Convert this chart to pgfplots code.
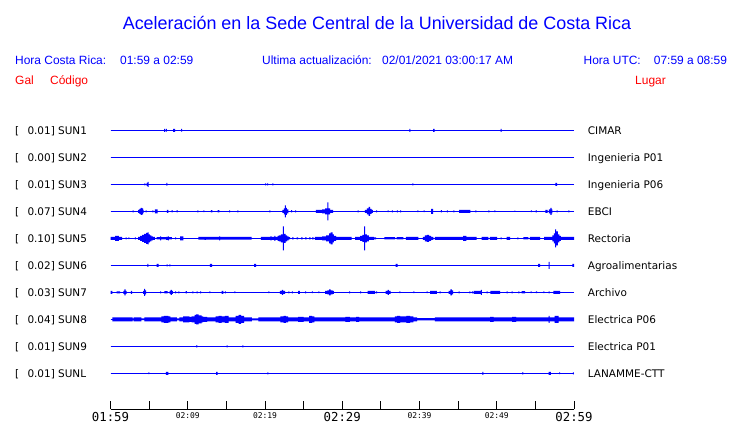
\documentclass[border=0pt]{standalone}
\usepackage{pgfplots}
\pgfplotsset{compat=1.18}
\usepackage{pgfplotstable}
\usepgfplotslibrary{fillbetween}
\usepackage{fontspec}
\setmainfont{Liberation Sans}
\newfontfamily\dejavu{DejaVu Sans}
\newfontfamily\dmono{DejaVu Sans Mono}
\definecolor{tblue}{RGB}{0,0,255}
\definecolor{tred}{RGB}{255,0,0}
\newcommand{\bigt}[1]{{\dmono\fontsize{12.4}{12.4}\selectfont #1}}
\newcommand{\smallt}[1]{{\dmono\fontsize{8}{8}\selectfont #1}}
% station envelope tables: x = minutes after 01:59, a = half amplitude (px)
\pgfplotstableread[row sep=\\]{x a\\ 0 0\\ 6.95 1.5\\ 7.08 0\\ 7.18 1.3\\ 7.31 0\\ 8.1 1.5\\ 8.35 0\\ 9.15 1.3\\ 9.28 0\\ 38.7 1.5\\ 38.83 0\\ 41.75 1.5\\ 41.97 0\\ 50.5 1.5\\ 50.63 0\\ 60 0\\}\sA
\pgfplotstableread[row sep=\\]{x a\\ 0 0\\ 60 0\\}\sB
\pgfplotstableread[row sep=\\]{x a\\ 0 0\\ 4.38 1\\ 4.5 0\\ 4.69 1.5\\ 4.82 2.5\\ 4.95 0\\ 7.22 1.3\\ 7.35 0\\ 20.0 1\\ 20.13 0\\ 20.26 1\\ 20.39 0\\ 20.95 1\\ 21.08 0\\ 39.09 1\\ 39.22 0\\ 57.6 1.5\\ 57.82 0\\ 60 0\\}\sC
\pgfplotstableread[row sep=\\]{x a\\ 0 0\\ 2.87 1\\ 3.0 0\\ 3.56 1.5\\ 3.75 2.5\\ 3.91 3.5\\ 4.08 3\\ 4.21 1.5\\ 4.3 0\\ 4.56 1\\ 4.69 0\\ 5.41 1\\ 5.54 0\\ 5.76 2\\ 6.11 0\\ 7.31 1.5\\ 7.5 0\\ 7.92 1.2\\ 8.05 0\\ 8.57 1.2\\ 8.7 0\\ 11.24 1\\ 11.37 0\\ 12.02 0.8\\ 12.15 0\\ 13.0 1.2\\ 13.2 0\\ 13.88 1.2\\ 14.08 0\\ 15.35 1\\ 15.48 0\\ 16.41 1\\ 16.54 0\\ 20.56 1\\ 20.69 0\\ 22.25 1.5\\ 22.44 3\\ 22.57 6\\ 22.69 3.5\\ 22.82 2\\ 23.03 0\\ 23.38 1.2\\ 23.51 0\\ 23.9 1\\ 24.03 0\\ 26.6 1.5\\ 27.38 2\\ 27.77 3\\ 28.08 9\\ 28.2 3\\ 28.42 1.5\\ 28.81 0\\ 32.0 1\\ 32.13 0\\ 32.94 1.5\\ 33.2 3\\ 33.42 4.5\\ 33.6 2.5\\ 33.8 1.5\\ 33.98 0\\ 34.37 1\\ 34.5 0\\ 35.86 0.8\\ 35.99 0\\ 36.43 1\\ 36.56 0\\ 37.07 1\\ 37.2 0\\ 37.5 1\\ 37.63 0\\ 39.74 0.8\\ 39.87 0\\ 40.52 0.8\\ 40.65 0\\ 41.5 2.5\\ 41.75 0\\ 42.77 1.2\\ 42.9 0\\ 43.55 1\\ 43.68 0\\ 44.4 1\\ 44.53 0\\ 45.14 1.5\\ 46.57 0\\ 47.22 1\\ 47.35 0\\ 48.9 1\\ 49.03 0\\ 49.68 0.8\\ 49.81 0\\ 52.27 0.6\\ 52.4 0\\ 54.43 0.8\\ 54.56 0\\ 55.02 1\\ 55.2 0\\ 56.28 1.5\\ 56.57 0\\ 56.76 2\\ 56.93 3.5\\ 57.09 2\\ 57.2 0\\ 57.76 1\\ 57.89 0\\ 59.26 1\\ 59.39 0\\ 60 0\\}\sD
\pgfplotstableread[row sep=\\]{x a\\ 0 1.5\\ 0.6 2.5\\ 1.1 1.5\\ 1.5 0\\ 1.97 1\\ 2.1 0\\ 2.3 0.8\\ 2.43 0\\ 3.17 1\\ 3.3 0\\ 3.56 1.5\\ 3.82 2.5\\ 4.08 3.5\\ 4.34 4.5\\ 4.6 5.5\\ 4.8 6\\ 4.92 4\\ 5.1 3\\ 5.3 2\\ 5.5 1.5\\ 5.76 0\\ 5.98 1.2\\ 6.41 2\\ 6.54 1.2\\ 7.19 1.5\\ 7.44 2\\ 7.57 1.2\\ 7.96 0\\ 8.35 1\\ 8.48 0\\ 9.0 2\\ 9.43 0\\ 11.37 1.3\\ 12.2 1.5\\ 12.35 1.3\\ 14.05 2\\ 14.2 1.3\\ 18.28 0\\ 19.48 1.5\\ 20.7 2\\ 20.85 1.5\\ 21.2 2.5\\ 21.35 1.5\\ 21.62 2.5\\ 21.81 3\\ 22.07 4\\ 22.31 12\\ 22.44 4.5\\ 22.66 3\\ 22.86 2\\ 23.05 1.2\\ 23.25 0\\ 23.5 1\\ 23.7 0\\ 24.1 1\\ 24.3 0\\ 24.68 1\\ 24.88 0\\ 25.2 1\\ 25.4 0\\ 25.7 1\\ 25.9 0\\ 26.1 1\\ 26.3 0\\ 26.47 1.5\\ 27.4 2\\ 27.9 3\\ 28.3 5\\ 28.5 6\\ 28.74 4\\ 28.93 2.5\\ 29.2 1.5\\ 31.22 0\\ 31.67 1.5\\ 32.3 2.5\\ 32.62 3.5\\ 32.84 12\\ 32.97 4\\ 33.2 3\\ 33.46 1.5\\ 34.1 1\\ 34.37 0\\ 35.44 1.2\\ 36.83 0\\ 37.05 1.2\\ 37.9 0\\ 38.25 1.5\\ 39.84 0\\ 40.45 1.5\\ 40.71 3\\ 40.97 3.5\\ 41.23 2.5\\ 41.5 1.5\\ 41.78 0\\ 42.0 1.5\\ 45.66 2.5\\ 46.08 1.5\\ 47.38 0\\ 48.03 1.5\\ 48.9 0\\ 49.1 1.5\\ 50.06 0\\ 50.5 1\\ 50.63 0\\ 51.29 1.5\\ 51.72 0\\ 52.66 1\\ 52.79 0\\ 53.44 1.2\\ 54.08 0\\ 54.3 1.5\\ 55.6 0\\ 56.14 1.5\\ 57.19 3\\ 57.38 5\\ 57.55 9\\ 57.7 7\\ 57.9 4\\ 58.1 2.5\\ 58.3 1.5\\ 60 1.5\\}\sE
\pgfplotstableread[row sep=\\]{x a\\ 0 0\\ 4.76 1.5\\ 4.89 0\\ 5.98 1.5\\ 6.24 0\\ 7.27 1\\ 7.4 0\\ 7.61 1\\ 7.74 0\\ 12.88 1.5\\ 13.14 0\\ 18.58 1.5\\ 18.84 0\\ 36.92 1.5\\ 37.18 0\\ 55.34 1.5\\ 55.6 0\\ 56.72 3.5\\ 56.85 0\\ 59.8 1.5\\ 60 1.5\\}\sF
\pgfplotstableread[row sep=\\]{x a\\ 0 1.5\\ 0.23 0\\ 0.8 1\\ 1.23 0\\ 1.68 1.5\\ 1.81 3\\ 1.97 1.5\\ 2.1 0\\ 2.65 1.5\\ 2.8 0\\ 4.21 1.5\\ 4.34 3.5\\ 4.47 2\\ 4.6 0\\ 6.41 1\\ 6.54 0\\ 6.97 1.2\\ 7.4 0\\ 7.64 1.5\\ 7.77 2.5\\ 7.94 1.5\\ 8.09 0\\ 8.35 1\\ 8.48 0\\ 8.78 1\\ 8.91 0\\ 9.74 1.2\\ 9.9 0\\ 10.6 1\\ 10.73 0\\ 11.16 1\\ 11.29 0\\ 11.59 1\\ 11.72 0\\ 12.8 0.8\\ 12.93 0\\ 14.4 1.5\\ 14.6 0\\ 14.82 1\\ 14.95 0\\ 16.03 0.8\\ 16.16 0\\ 20.43 0.8\\ 20.56 0\\ 21.94 1.5\\ 22.18 2.5\\ 22.33 1.5\\ 22.59 0\\ 23.03 1\\ 23.16 0\\ 23.47 1\\ 23.6 0\\ 24.3 1.5\\ 24.5 0\\ 25.18 1\\ 25.31 0\\ 26.06 0.8\\ 26.19 0\\ 26.9 0.8\\ 27.03 0\\ 27.77 1.5\\ 28.09 2\\ 28.3 3\\ 28.5 2\\ 28.74 1.5\\ 28.93 0\\ 30.9 1\\ 31.03 0\\ 32.3 1\\ 32.43 0\\ 33.3 1.5\\ 34.24 0\\ 34.37 1\\ 34.5 0\\ 35.6 1.5\\ 35.86 2.5\\ 36.05 1.5\\ 36.25 0\\ 37.4 0.8\\ 37.53 0\\ 39.2 0.8\\ 39.33 0\\ 40.93 0.8\\ 41.06 0\\ 41.39 1.5\\ 42.25 0\\ 42.6 1\\ 42.73 0\\ 43.78 1.5\\ 44.0 3\\ 44.2 2\\ 44.36 0\\ 45.05 1\\ 45.18 0\\ 46.44 1\\ 46.57 0\\ 46.79 1\\ 46.92 0\\ 46.99 1.5\\ 47.95 2.5\\ 48.08 0\\ 48.7 1\\ 48.83 0\\ 49.16 1.5\\ 50.45 0\\ 51.29 1\\ 51.42 0\\ 51.94 1\\ 52.07 0\\ 52.8 1\\ 52.93 0\\ 53.23 1.2\\ 53.66 0\\ 54.4 0.8\\ 54.53 0\\ 55.08 0.8\\ 55.21 0\\ 56.03 0.8\\ 56.16 0\\ 56.7 1\\ 56.83 0\\ 57.32 1.5\\ 58.19 0\\ 60 0\\}\sG
\pgfplotstableread[row sep=\\]{x a\\ 0 0\\ 0.23 2\\ 2.85 1\\ 3.0 2\\ 4.0 0.8\\ 4.4 2\\ 6.6 3\\ 6.9 3.5\\ 7.5 3\\ 7.75 2\\ 8.6 1\\ 8.9 2\\ 9.4 3\\ 10.2 2.5\\ 10.5 3\\ 10.9 4.5\\ 11.1 5\\ 11.4 4\\ 11.8 3\\ 12.0 2.5\\ 12.5 2\\ 13.6 3\\ 14.0 3.5\\ 14.4 3\\ 14.8 3.5\\ 15.3 2\\ 16.2 3.5\\ 16.6 4.5\\ 16.9 3.5\\ 17.3 2\\ 18.3 1\\ 19.15 2\\ 22.0 3\\ 22.4 3.5\\ 22.7 3\\ 23.0 2\\ 24.3 2.5\\ 25.0 2\\ 25.7 3.5\\ 26.1 3\\ 26.4 2\\ 30.4 2.5\\ 31.0 2\\ 31.8 2.5\\ 32.2 2\\ 36.8 3\\ 37.1 3.5\\ 37.5 3\\ 38.3 3.5\\ 38.8 3\\ 39.2 2\\ 39.7 1.2\\ 42.0 2\\ 49.15 2.5\\ 49.6 2\\ 52.0 2.5\\ 52.5 2\\ 56.7 3.5\\ 56.85 2\\ 57.5 3.5\\ 58.0 2\\ 60 2\\}\sH
\pgfplotstableread[row sep=\\]{x a\\ 0 0\\ 11.1 1\\ 11.23 0\\ 15.04 1\\ 15.17 0\\ 17.06 1\\ 17.19 0\\ 60 0\\}\sI
\pgfplotstableread[row sep=\\]{x a\\ 0 0\\ 4.9 0.8\\ 5.03 0\\ 7.18 1.5\\ 7.48 0\\ 13.66 1.5\\ 13.88 0\\ 20.3 1\\ 20.43 0\\ 48.13 1.5\\ 48.26 0\\ 53.3 1\\ 53.43 0\\ 56.7 1.5\\ 57.0 0\\ 58.06 0.8\\ 58.19 0\\ 59.84 1\\ 59.97 0\\ 60 0\\}\sL
\newcommand{\trace}[3]{%
  \addplot[tblue, line width=1.1bp] coordinates {(0,#2) (60,#2)};
  \addplot[name path=u#3, const plot, draw=none] table[x=x, y expr=#2+\thisrow{a}] {#1};
  \addplot[name path=l#3, const plot, draw=none] table[x=x, y expr=#2-\thisrow{a}] {#1};
  \addplot[fill=tblue, draw=none] fill between[of=u#3 and l#3];
}
\begin{document}
\begin{tikzpicture}
\begin{axis}[
  at={(110.5bp,13.7bp)}, anchor=south west,
  scale only axis, width=463.5bp, height=300bp,
  xmin=0, xmax=60, ymin=0, ymax=300,
  axis y line=none, axis x line*=bottom,
  x axis line style={black, line width=1bp},
  xtick={0,5,...,60},
  xticklabels={\bigt{01:59},{},\smallt{02:09},{},\smallt{02:19},{},\bigt{02:29},{},\smallt{02:39},{},\smallt{02:49},{},\bigt{02:59}},
  xticklabel style={anchor=north, inner sep=0pt, yshift=-2.7bp, text=black},
  tick align=inside, major tick length=8.5bp,
  tick style={black, line width=1bp},
  clip=false,
]
\trace{\sA}{279}{a}
\trace{\sB}{252}{b}
\trace{\sC}{225}{c}
\trace{\sD}{198}{d}
\trace{\sE}{171}{e}
\trace{\sF}{144}{f}
\trace{\sG}{117}{g}
\trace{\sH}{90}{h}
\trace{\sI}{63}{i}
\trace{\sL}{36}{l}
\end{axis}
% header
\node[anchor=base, inner sep=0pt, text=tblue, font=\fontsize{18}{18}\selectfont] at (377bp,393bp) {Aceleración en la Sede Central de la Universidad de Costa Rica};
\begin{scope}[every node/.style={anchor=base west, inner sep=0pt, font=\fontsize{12}{12}\selectfont}]
\node[text=tblue] at (15bp,358bp) {Hora Costa Rica:};
\node[text=tblue] at (120bp,358bp) {01:59 a 02:59};
\node[text=tblue] at (262bp,358bp) {Ultima actualización:};
\node[text=tblue] at (382bp,358bp) {02/01/2021 03:00:17 AM};
\node[text=tblue] at (583.5bp,358bp) {Hora UTC:};
\node[text=tblue] at (653.7bp,358bp) {07:59 a 08:59};
\node[text=tred] at (15bp,338.7bp) {Gal};
\node[text=tred] at (50bp,338.7bp) {Código};
\node[text=tred] at (635bp,338.7bp) {Lugar};
\end{scope}
\begin{scope}[every node/.style={anchor=base west, inner sep=0pt, text=black, font=\dejavu\fontsize{10.5}{10.5}\selectfont}]
\foreach \yy/\val/\code/\place in {288.5/0.01/SUN1/CIMAR, 261.5/0.00/SUN2/Ingenieria P01, 234.5/0.01/SUN3/Ingenieria P06, 207.5/0.07/SUN4/EBCI, 180.5/0.10/SUN5/Rectoria, 153.5/0.02/SUN6/Agroalimentarias, 126.5/0.03/SUN7/Archivo, 99.5/0.04/SUN8/Electrica P06, 72.5/0.01/SUN9/Electrica P01, 45.5/0.01/SUNL/LANAMME-CTT}{
  \node at (15bp,\yy bp) {[};
  \node at (27.3bp,\yy bp) {\val] \code};
  \node at (587.7bp,\yy bp) {\place};
}
\end{scope}
\path (0,0) rectangle (740bp,423bp);
\end{tikzpicture}
\end{document}
